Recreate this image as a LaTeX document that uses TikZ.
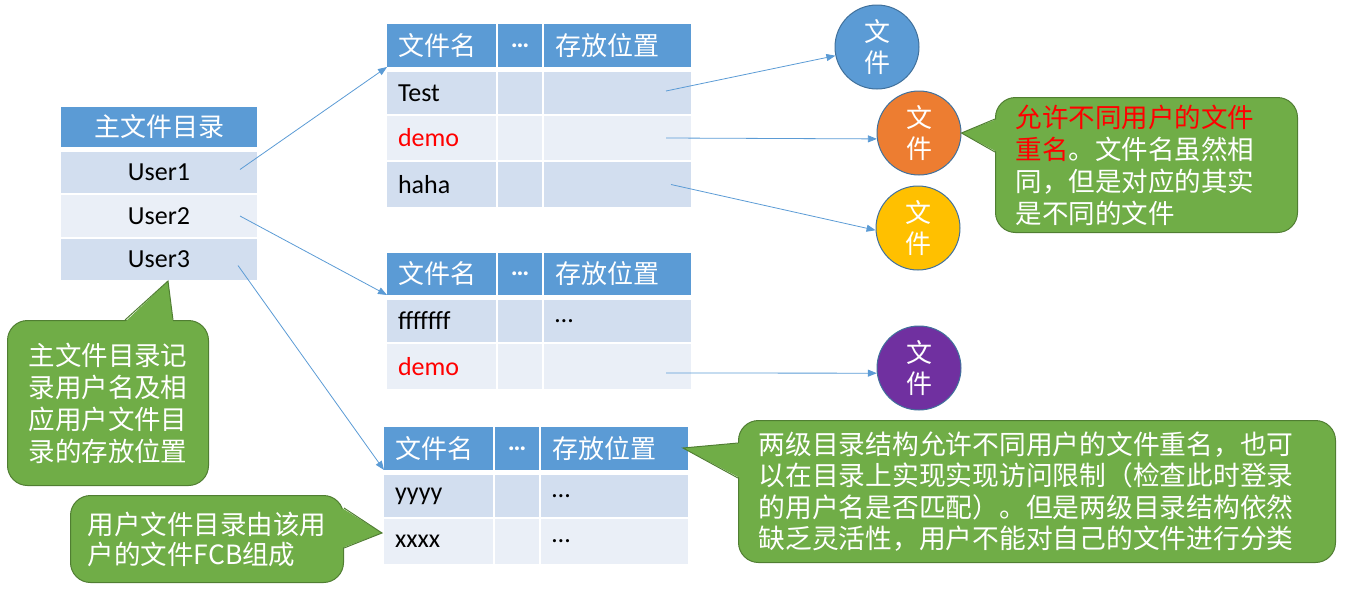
\documentclass[tikz,border=0pt]{standalone}
\usepackage{fontspec}
\setmainfont{Carlito}
\newfontfamily\cjk{Noto Sans CJK SC}
\usetikzlibrary{arrows.meta,calc}
\definecolor{hdblue}{HTML}{5B9BD5}
\definecolor{rowdark}{HTML}{D2DEEF}
\definecolor{rowlight}{HTML}{EAEFF7}
\definecolor{callfill}{HTML}{70AD47}
\definecolor{callline}{HTML}{507E32}
\definecolor{arrblue}{HTML}{5B9BD5}
\definecolor{circline}{HTML}{41719C}
\definecolor{fileorange}{HTML}{ED7D31}
\definecolor{fileyellow}{HTML}{FFC000}
\definecolor{filepurple}{HTML}{7030A0}
\definecolor{myred}{HTML}{FF0000}
\newcommand\mylat{\fontsize{26}{31}\selectfont}
\newcommand\mycjkh{\cjk\fontsize{26}{31}\selectfont}
\newcommand\mycjkc{\cjk\fontsize{26.5}{32}\selectfont}
\begin{document}
\begin{tikzpicture}[x=1pt,y=-1pt,
  tcell/.style={anchor=north west, inner ysep=0pt, outer sep=0pt},
  hd/.style={tcell, fill=hdblue, text=white},
  rd/.style={tcell, fill=rowdark, font=\mylat},
  rl/.style={tcell, fill=rowlight, font=\mylat},
  colA/.style={minimum width=109pt, text width=87pt, inner xsep=11pt, align=left},
  colB/.style={minimum width=44pt, inner xsep=0pt, align=center},
  colC/.style={minimum width=147pt, text width=125pt, inner xsep=11pt, align=left},
  mcell/.style={minimum width=196pt, inner xsep=0pt, align=center},
  arr/.style={draw=arrblue, line width=0.8pt, -{Triangle[length=9pt,width=7pt]}},
  filec/.style={circle, minimum size=84pt, inner sep=0pt, draw=circline, line width=1pt, text=white, font=\mycjkh, align=center},
  callbox/.style={anchor=north west, fill=callfill, draw=callline, line width=1pt, rounded corners=20pt, text=white, font=\mycjkc},
  ptrfill/.style={fill=callfill},
  ptrline/.style={draw=callline, line width=1pt}
]
\useasboundingbox (0,0) rectangle (1345,592);

% main directory
\node[hd, mcell, minimum height=40pt, font=\mycjkh] (mh) at (61,107) {主文件目录};
\node[rd, mcell, minimum height=41pt] (u1) at (61,152) {User1};
\node[rl, mcell, minimum height=42pt] (u2) at (61,195) {User2};
\node[rd, mcell, minimum height=41pt] (u3) at (61,239) {User3};

% table 1
\node[hd, colA, minimum height=43pt, font=\mycjkh] (t1h1) at (387,24) {文件名};
\node[hd, colB, minimum height=43pt, font=\mylat\bfseries] (t1h2) at (498,24) {…};
\node[hd, colC, minimum height=43pt, font=\mycjkh] (t1h3) at (544,24) {存放位置};
\node[rd, colA, minimum height=42pt] (t1r1c1) at (387,72) {Test};
\node[rd, colB, minimum height=42pt] (t1r1c2) at (498,72) {};
\node[rd, colC, minimum height=42pt] (t1r1c3) at (544,72) {};
\node[rl, colA, minimum height=44pt, text=myred] (t1r2c1) at (387,116) {demo};
\node[rl, colB, minimum height=44pt] (t1r2c2) at (498,116) {};
\node[rl, colC, minimum height=44pt] (t1r2c3) at (544,116) {};
\node[rd, colA, minimum height=45pt] (t1r3c1) at (387,162) {haha};
\node[rd, colB, minimum height=45pt] (t1r3c2) at (498,162) {};
\node[rd, colC, minimum height=45pt] (t1r3c3) at (544,162) {};

% table 2
\node[hd, colA, minimum height=42pt, font=\mycjkh] (t2h1) at (387,253) {文件名};
\node[hd, colB, minimum height=42pt, font=\mylat\bfseries] (t2h2) at (498,253) {…};
\node[hd, colC, minimum height=42pt, font=\mycjkh] (t2h3) at (544,253) {存放位置};
\node[rd, colA, minimum height=42pt] (t2r1c1) at (387,300) {fffffff};
\node[rd, colB, minimum height=42pt] (t2r1c2) at (498,300) {};
\node[rd, colC, minimum height=42pt] (t2r1c3) at (544,300) {…};
\node[rl, colA, minimum height=45pt, text=myred] (t2r2c1) at (387,344) {demo};
\node[rl, colB, minimum height=45pt] (t2r2c2) at (498,344) {};
\node[rl, colC, minimum height=45pt] (t2r2c3) at (544,344) {};

% table 3
\node[hd, colA, minimum height=43pt, font=\mycjkh] (t3h1) at (384,427) {文件名};
\node[hd, colB, minimum height=43pt, font=\mylat\bfseries] (t3h2) at (495,427) {…};
\node[hd, colC, minimum height=43pt, font=\mycjkh] (t3h3) at (541,427) {存放位置};
\node[rd, colA, minimum height=42pt] (t3r1c1) at (384,475) {yyyy};
\node[rd, colB, minimum height=42pt] (t3r1c2) at (495,475) {};
\node[rd, colC, minimum height=42pt] (t3r1c3) at (541,475) {…};
\node[rl, colA, minimum height=45pt] (t3r2c1) at (384,519) {xxxx};
\node[rl, colB, minimum height=45pt] (t3r2c2) at (495,519) {};
\node[rl, colC, minimum height=45pt] (t3r2c3) at (541,519) {…};

% file circles
\node[filec, fill=hdblue] (bc) at (877,47) {文\\件};
\node[filec, fill=fileorange] (oc) at (919,133) {文\\件};
\node[filec, fill=fileyellow] (yc) at (918,228) {文\\件};
\node[filec, fill=filepurple] (pc) at (919,368) {文\\件};

% connectors
\draw[arr] ([xshift=-17pt,yshift=3pt]u1.east) -- (t1h1.south west);
\draw[arr] ([xshift=-17pt]u2.east) -- (t2h1.south west);
\draw[arr] ([xshift=-19pt,yshift=-6pt]u3.east) -- (t3h1.south west);
\draw[arr] ([xshift=-25pt,yshift=2pt]t1r1c3.east) -- (bc);
\draw[arr] ([xshift=-25pt]t1r2c3.east) -- (oc.188);
\draw[arr] ([xshift=-20pt]t1r3c3.east) -- (yc.183);
\draw[arr] ([xshift=-25pt,yshift=-6.5pt]t2r2c3.east) -- (pc.187);

% callout 1
\node[callbox, minimum width=302pt, minimum height=135pt, text width=262pt, inner xsep=20pt, align=left] (c1) at (995,97)
  {\textcolor{myred}{允许不同用户的文件}\\\textcolor{myred}{重名}。文件名虽然相\\同，但是对应的其实\\是不同的文件};
\fill[ptrfill] ([xshift=2pt,yshift=-22pt]c1.north west) -- (oc.east) -- ([xshift=2pt,yshift=-55pt]c1.north west) -- cycle;
\draw[ptrline] ([yshift=-22pt]c1.north west) -- (oc.east) -- ([yshift=-55pt]c1.north west);

% callout 2
\coordinate (c2tip) at (168,281);
\node[callbox, minimum width=201pt, minimum height=165pt, align=left, inner xsep=0pt] (c2) at (7,320)
  {主文件目录记\\录用户名及相\\应用户文件目\\录的存放位置};
\fill[ptrfill] ([xshift=118pt,yshift=-2pt]c2.north west) -- (c2tip) -- ([xshift=166pt,yshift=-2pt]c2.north west) -- cycle;
\draw[ptrline] ([xshift=118pt]c2.north west) -- (c2tip) -- ([xshift=166pt]c2.north west);

% callout 3
\coordinate (c3tip) at (382,533);
\node[callbox, minimum width=273pt, minimum height=87pt, align=left, inner xsep=0pt, font=\cjk\fontsize{26.5}{30}\selectfont] (c3) at (70,495)
  {用户文件目录由该用\\户的文件FCB组成};
\fill[ptrfill] ([xshift=-2pt,yshift=-13pt]c3.north east) -- (c3tip) -- ([xshift=-2pt,yshift=-53pt]c3.north east) -- cycle;
\draw[ptrline] ([yshift=-13pt]c3.north east) -- (c3tip) -- ([yshift=-53pt]c3.north east);

% callout 4
\coordinate (c4tip) at (683,448);
\node[callbox, minimum width=597pt, minimum height=142pt, text width=557pt, inner xsep=20pt, align=left, font=\cjk\fontsize{26.75}{31.3}\selectfont] (c4) at (738,420)
  {两级目录结构允许不同用户的文件重名，也可\\以在目录上实现实现访问限制（检查此时登录\\的用户名是否匹配）。但是两级目录结构依然\\缺乏灵活性，用户不能对自己的文件进行分类};
\fill[ptrfill] ([xshift=2pt,yshift=-23pt]c4.north west) -- (c4tip) -- ([xshift=2pt,yshift=-58pt]c4.north west) -- cycle;
\draw[ptrline] ([yshift=-23pt]c4.north west) -- (c4tip) -- ([yshift=-58pt]c4.north west);
\end{tikzpicture}
\end{document}
